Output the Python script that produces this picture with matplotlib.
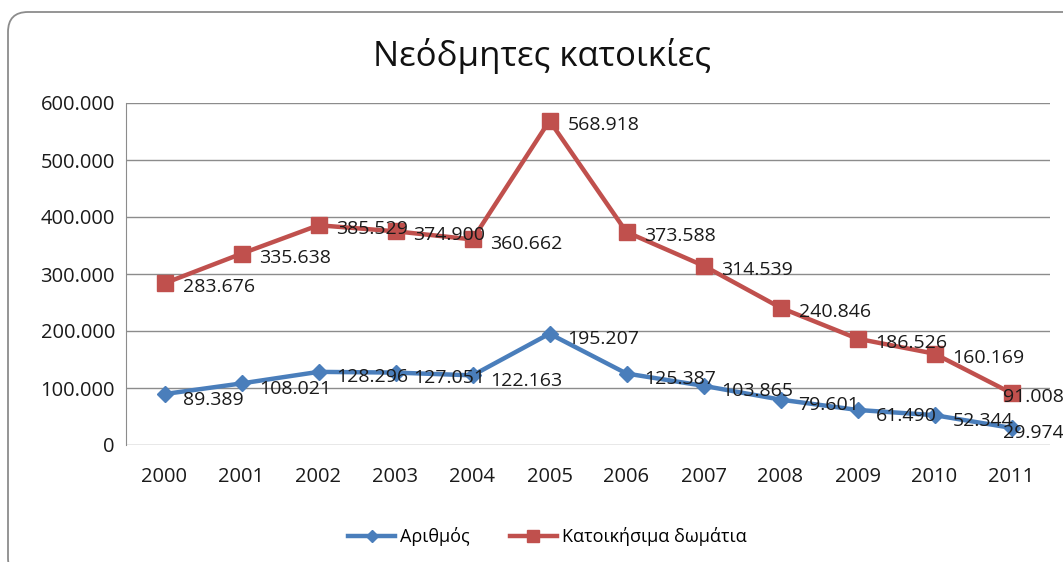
import matplotlib.pyplot as plt
from matplotlib.patches import FancyBboxPatch
from matplotlib.transforms import IdentityTransform
from matplotlib.ticker import FuncFormatter

years = ["2000", "2001", "2002", "2003", "2004", "2005", "2006", "2007", "2008", "2009", "2010", "2011"]
arithmos = [89389, 108021, 128296, 127051, 122163, 195207, 125387, 103865, 79601, 61490, 52344, 29974]
domatia = [283676, 335638, 385529, 374900, 360662, 568918, 373588, 314539, 240846, 186526, 160169, 91008]

plt.rcParams['font.family'] = ['Open Sans', 'DejaVu Sans']

fig = plt.figure(figsize=(10.63, 5.62), dpi=100)

# rounded chart border (Excel style), runs off the right/bottom edge; pixel units
frame = FancyBboxPatch((8, -16), 1076, 566,
                       boxstyle="round,pad=0,rounding_size=20",
                       transform=IdentityTransform(), fill=False,
                       edgecolor="#8c8c8c", linewidth=1.3)
fig.patches.append(frame)

ax = fig.add_axes([126 / 1063, 117 / 562, 924 / 1063, 342 / 562])
x = list(range(len(years)))

blue = "#4A7EBB"
red = "#C0504D"
ax.plot(x, arithmos, color=blue, lw=3.2, marker="D", ms=8, label="Αριθμός")
ax.plot(x, domatia, color=red, lw=3.2, marker="s", ms=12, label="Κατοικήσιμα δωμάτια")

def fmt(v):
    return "{:,}".format(int(v)).replace(",", ".")

last = len(years) - 1
for series, dy in ((arithmos, -4), (domatia, -3)):
    for xi, v in zip(x, series):
        dx = -6 if xi == last else 13  # Excel pulls the last labels back inside
        ax.annotate(fmt(v), (xi, v), xytext=(dx, dy), textcoords="offset points",
                    ha="left", va="center", fontsize=14, color="#1a1a1a")

ax.set_xlim(-0.5, 11.5)
ax.set_ylim(0, 600000)
ax.set_yticks(range(0, 600001, 100000))
ax.yaxis.set_major_formatter(FuncFormatter(lambda v, p: fmt(v)))
ax.set_xticks(x)
ax.set_xticklabels(years)
ax.grid(axis="y", color="#8c8c8c", lw=1)
ax.set_axisbelow(True)
for s in ["top", "right", "bottom"]:
    ax.spines[s].set_visible(False)
ax.spines["left"].set_color("#8c8c8c")
ax.tick_params(axis="both", length=0, labelsize=14.5, colors="#1a1a1a")
ax.tick_params(axis="y", pad=8)
ax.tick_params(axis="x", pad=16)

fig.text(0.51, 0.9, "Νεόδμητες κατοικίες", ha="center", va="center", fontsize=25,
         color="#111111")

fig.legend(loc="center", bbox_to_anchor=(0.515, 0.045), ncol=2, frameon=False,
           fontsize=13, handlelength=2.6, columnspacing=2.2, markerscale=0.75,
           handletextpad=0.3)

fig.savefig("out.png", dpi=100)
